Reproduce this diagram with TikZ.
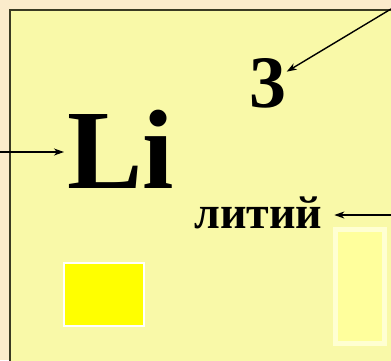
\documentclass[tikz,border=0pt]{standalone}
\usepackage{fontspec}
\setmainfont{Liberation Serif}
\usetikzlibrary{arrows.meta}
\definecolor{bgbeige}{HTML}{FBEBCB}
\definecolor{boxyellow}{HTML}{F9F9A8}
\definecolor{pureyellow}{HTML}{FFFF00}
\definecolor{paleyellow}{HTML}{FFFF9C}
\definecolor{paleborder}{HTML}{FFFFD2}
\definecolor{frameline}{HTML}{3A3A22}
\begin{document}
\begin{tikzpicture}[x=1pt,y=-1pt,
  ptr/.style={-{Stealth[length=10pt,width=7pt,inset=3pt]}, line width=1.4pt},
  lbl/.style={inner sep=0pt, text=black}]
\useasboundingbox (0,0) rectangle (391,360);
\fill[bgbeige] (0,0) rectangle (391,360);
\draw[fill=boxyellow, draw=frameline, line width=2pt] (10,10) rectangle (400,370);
\draw[fill=pureyellow, draw=white, line width=2pt] (64,263) rectangle (144,326);
\draw[fill=paleyellow, draw=paleborder, line width=5pt] (335.5,229.5) rectangle (384.5,343.5);
\node[lbl, font=\bfseries\fontsize{74}{74}\selectfont, anchor=base] (three) at (268,107) {3};
\node[lbl, font=\bfseries\fontsize{113}{113}\selectfont, anchor=base west] (li) at (67,188) {Li};
\node[lbl, font=\bfseries\fontsize{46}{46}\selectfont, anchor=base west] (name) at (194,228) {литий};
\coordinate (s1) at (391,9);
\coordinate (s2) at (0,152);
\coordinate (s3) at (391,215);
\draw[ptr] (s1) -- (three);
\draw[ptr] (s2) -- ([xshift=-3pt]s2 -| li.west);
\draw[ptr] (s3) -- ([xshift=12pt]s3 -| name.east);
\end{tikzpicture}
\end{document}
